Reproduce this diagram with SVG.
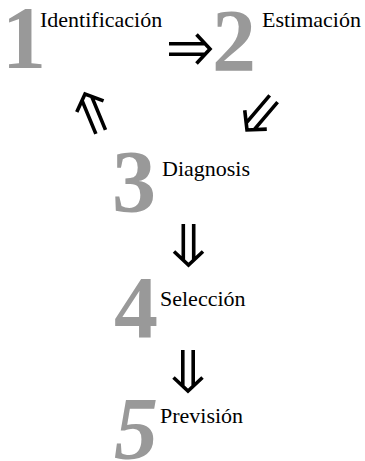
<svg xmlns="http://www.w3.org/2000/svg" xmlns:xlink="http://www.w3.org/1999/xlink" width="365" height="461" viewBox="0 0 365 461">
  <style>
    text { font-family: 'Liberation Serif', 'DejaVu Serif', serif; }
    .num { font-weight: bold; font-size: 88px; fill: #999999; }
    .lbl { font-size: 22px; fill: #000000; }
    .arr { fill: none; stroke: #000000; stroke-width: 3.6; stroke-linecap: butt; stroke-linejoin: miter; }
  </style>
  <defs>
    <g id="dbl">
      <path class="arr" d="M -41,-5.2 H -5 M -41,5.2 H -5 M -13.5,-14.5 L 0,0 L -13.5,14.5"/>
    </g>
  </defs>
  <rect width="365" height="461" fill="#ffffff"/>
  <g id="node1">
    <text class="num" x="2" y="67">1</text>
    <text class="lbl" x="40" y="27">Identificación</text>
  </g>
  <g id="node2">
    <text class="num" x="212" y="70">2</text>
    <text class="lbl" x="262" y="27">Estimación</text>
  </g>
  <g id="node3">
    <text class="num" x="112" y="211">3</text>
    <text class="lbl" x="162" y="176">Diagnosis</text>
  </g>
  <g id="node4">
    <text class="num" x="114" y="337">4</text>
    <text class="lbl" x="160" y="306">Selección</text>
  </g>
  <g id="node5">
    <text class="num" x="114" y="458" font-style="italic">5</text>
    <text class="lbl" x="160" y="423">Previsión</text>
  </g>
  <g id="connectors">
    <use xlink:href="#dbl" transform="translate(210,49)"/>
    <use xlink:href="#dbl" transform="translate(247,130) rotate(130.5)"/>
    <use xlink:href="#dbl" transform="translate(85,94) rotate(-112.5)"/>
    <use xlink:href="#dbl" transform="translate(188.5,265) rotate(90)"/>
    <use xlink:href="#dbl" transform="translate(188,391) rotate(90)"/>
  </g>
</svg>
